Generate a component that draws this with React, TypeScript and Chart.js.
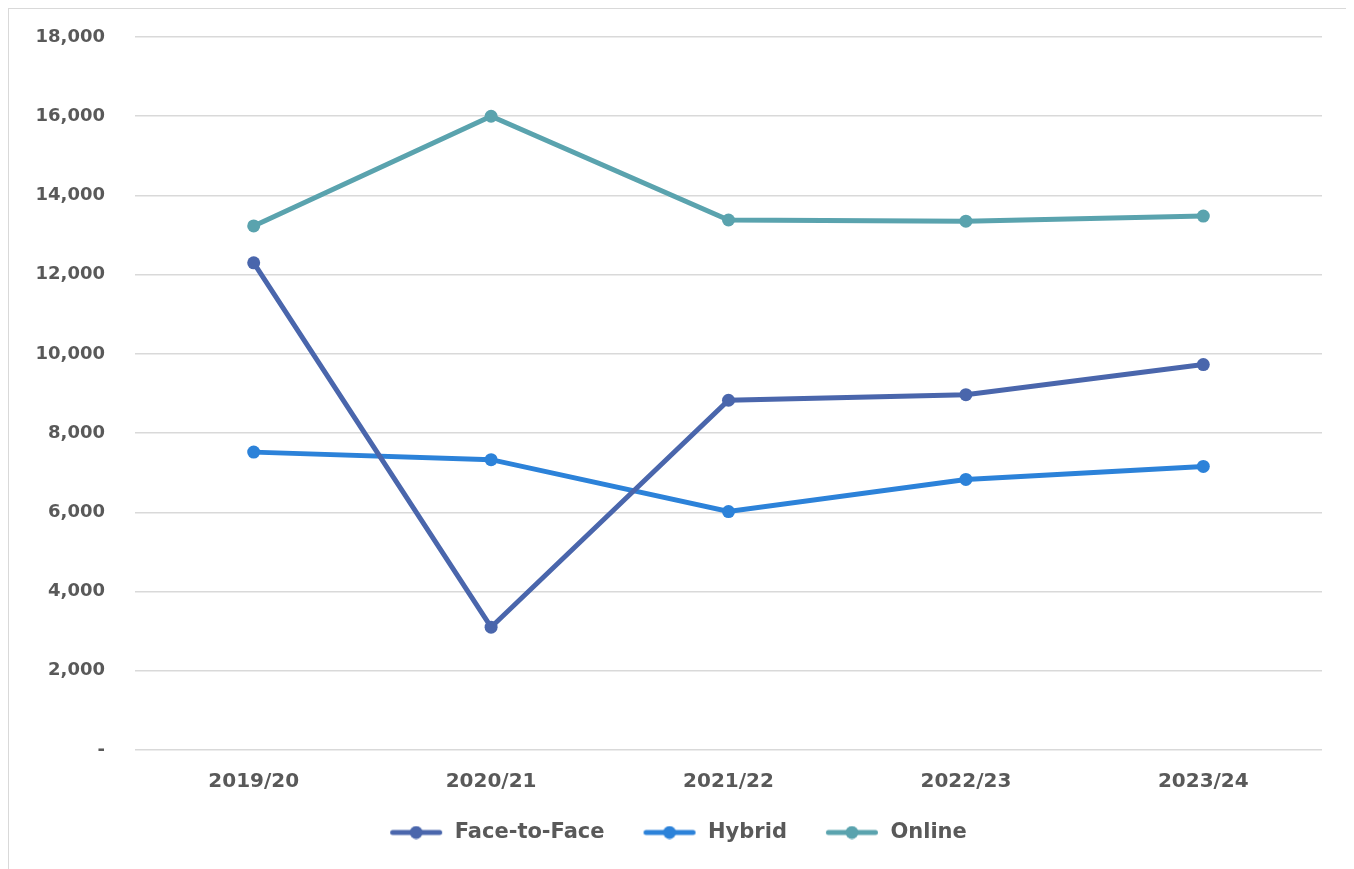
import React, { useEffect, useRef } from "react";
import { Chart, registerables } from "chart.js";

Chart.register(...registerables);

const categories = ["2019/20", "2020/21", "2021/22", "2022/23", "2023/24"];
const faceToFace = [12300, 3100, 8830, 8970, 9730];
const hybrid = [7520, 7330, 6020, 6830, 7160];
const online = [13230, 16000, 13380, 13350, 13480];
const yTicks = [0, 2000, 4000, 6000, 8000, 10000, 12000, 14000, 16000, 18000];

const COLORS = ["#4A66AC", "#2C82D9", "#5AA3AE"];
const FONT = "'DejaVu Sans', sans-serif";
const TEXT = "#595959";

function legendIcon(color: string): HTMLCanvasElement {
  const c = document.createElement("canvas");
  c.width = 54;
  c.height = 14;
  const ctx = c.getContext("2d")!;
  ctx.strokeStyle = color;
  ctx.lineWidth = 5;
  ctx.lineCap = "round";
  ctx.beginPath();
  ctx.moveTo(3.5, 7);
  ctx.lineTo(50.5, 7);
  ctx.stroke();
  ctx.fillStyle = color;
  ctx.beginPath();
  ctx.arc(27, 7, 6.5, 0, Math.PI * 2);
  ctx.fill();
  return c;
}

export default function App() {
  const ref = useRef<HTMLCanvasElement | null>(null);
  useEffect(() => {
    if (!ref.current) return;
    const names = ["Face-to-Face", "Hybrid", "Online"];
    const series = [faceToFace, hybrid, online];
    const icons = COLORS.map(legendIcon);
    const chart = new Chart(ref.current, {
      type: "line",
      data: {
        labels: categories,
        datasets: series.map((d, i) => ({
          label: names[i],
          data: d,
          borderColor: COLORS[i],
          backgroundColor: COLORS[i],
          pointBackgroundColor: COLORS[i],
          pointBorderColor: COLORS[i],
          borderWidth: 5,
          pointRadius: 6.5,
          pointBorderWidth: 0,
          tension: 0,
          fill: false,
        })),
      },
      options: {
        responsive: false,
        animation: false,
        layout: { padding: { top: 28, right: 29, left: 24, bottom: 16 } },
        plugins: {
          tooltip: { enabled: false },
          legend: {
            position: "bottom",
            labels: {
              usePointStyle: true,
              pointStyleWidth: 56,
              padding: 37,
              color: TEXT,
              font: { family: FONT, size: 21, weight: "bold" },
              generateLabels: (ch: any) =>
                ch.data.datasets.map((ds: any, i: number) => ({
                  text: ds.label,
                  pointStyle: icons[i],
                  fillStyle: COLORS[i],
                  strokeStyle: COLORS[i],
                  lineWidth: 0,
                  hidden: false,
                  datasetIndex: i,
                  fontColor: TEXT,
                })),
            },
          },
        },
        scales: {
          x: {
            offset: true,
            grid: { display: false },
            border: { display: false },
            ticks: {
              color: TEXT,
              padding: 12,
              font: { family: FONT, size: 20, weight: "bold" },
            },
            afterFit: (s: any) => {
              s.height = 35;
              s._computeLabelArea = () => undefined;
            },
          },
          y: {
            min: 0,
            max: 18000,
            afterBuildTicks: (s: any) => {
              s.ticks = yTicks.map((v) => ({ value: v }));
            },
            grid: { color: "#D9D9D9", lineWidth: 1.5, drawTicks: false },
            border: { display: false },
            ticks: {
              color: TEXT,
              padding: 30,
              font: { family: FONT, size: 18, weight: "bold" },
              callback: (v: any) => (Number(v) === 0 ? "-" : Number(v).toLocaleString("en-US")),
            },
            afterFit: (s: any) => {
              s.width = 102;
              s.paddingTop = 0;
              s.paddingBottom = 0;
              s._computeLabelArea = () => undefined;
            },
          },
        },
      },
    });
    return () => chart.destroy();
  }, []);
  return (
    <div
      style={{
        width: 1342,
        height: 860,
        borderTop: "1px solid #D9D9D9",
        borderLeft: "1px solid #D9D9D9",
        borderRight: "1px solid #D9D9D9",
        background: "#fff",
      }}
    >
      <canvas ref={ref} width={1342} height={860} style={{ display: "block" }} />
    </div>
  );
}
